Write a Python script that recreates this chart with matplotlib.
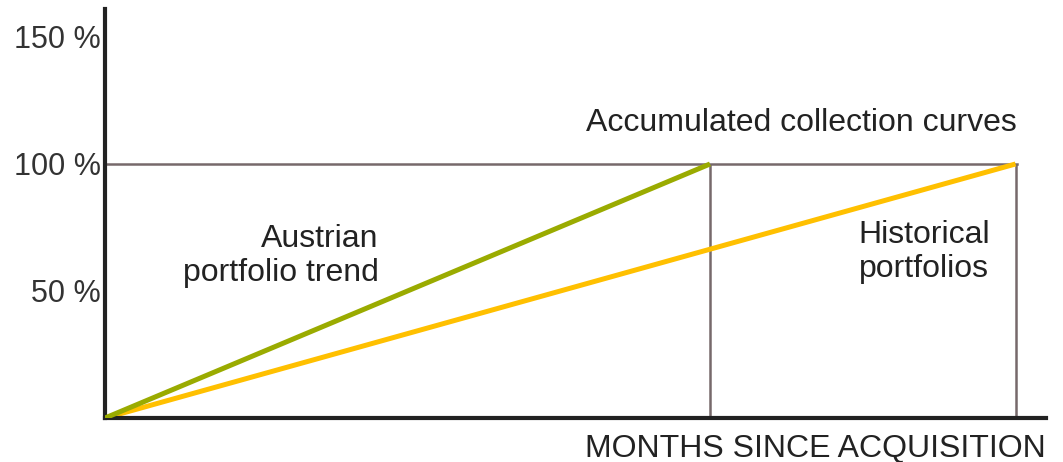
import matplotlib.pyplot as plt

plt.rcParams['font.family'] = ['Liberation Sans', 'DejaVu Sans']

# data (months, accumulated collection %)
austrian_x = [0, 20]
austrian_y = [0, 100]
historical_x = [0, 30.1]
historical_y = [0, 100]
yticks = [50, 100, 150]
ytick_labels = ['50 %', '100 %', '150 %']

fig = plt.figure(figsize=(10.63, 4.62), dpi=100)
ax = fig.add_axes([0.0988, 0.0952, 0.885, 0.8853])

gray = '#76696b'
ax.axhline(100, xmin=0, xmax=30.15 / 31.1, color=gray, lw=1.8, zorder=1)
ax.vlines([austrian_x[-1], historical_x[-1]], 0, 100, color=gray, lw=1.8, zorder=1)

ax.plot(historical_x, historical_y, color='#ffc000', lw=3.6, solid_capstyle='butt', zorder=2)
ax.plot(austrian_x, austrian_y, color='#9aab00', lw=3.6, solid_capstyle='butt', zorder=3)

ax.set_xlim(0, 31.1)
ax.set_ylim(0, 161)
ax.set_xticks([])
ax.set_yticks(yticks)
ax.set_yticklabels(ytick_labels, fontsize=22, color='#333333')
ax.tick_params(axis='y', length=0, pad=3)

for s in ['top', 'right']:
    ax.spines[s].set_visible(False)
for s in ['left', 'bottom']:
    ax.spines[s].set_linewidth(3)
    ax.spines[s].set_color('#222222')

txt = dict(fontsize=23, color='#222222', va='baseline')
ax.text(30.13, 113, 'Accumulated collection curves', ha='right', **txt)
ax.text(9.04, 67.3, 'Austrian', ha='right', **txt)
ax.text(9.04, 53.9, 'portfolio trend', ha='right', **txt)
ax.text(27.07, 68.9, 'Historical', ha='center', **txt)
ax.text(27.07, 55.5, 'portfolios', ha='center', **txt)
ax.text(31.1, -15.4, 'MONTHS SINCE ACQUISITION', ha='right', clip_on=False, **txt)

fig.savefig('out.png', dpi=100)
